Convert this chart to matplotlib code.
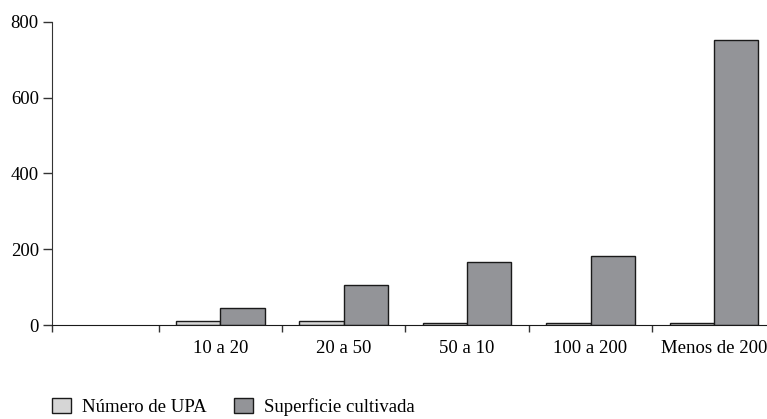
import matplotlib
matplotlib.use("Agg")
import matplotlib.pyplot as plt
import numpy as np

plt.rcParams['font.family'] = ['Liberation Serif', 'DejaVu Serif']

categorias = ["", "10 a 20", "20 a 50", "50 a 10", "100 a 200", "Menos de 200"]
numero_upa = [np.nan, 10, 10, 5, 5, 5]
superficie = [np.nan, 45, 105, 165, 182, 753]

fig = plt.figure(figsize=(7.67, 4.19), dpi=100)
ax = fig.add_axes([52 / 767, 1 - 325 / 419, 1 - 52 / 767, (325 - 21.7) / 419])

x = np.arange(len(categorias))
w = 0.359
b1 = ax.bar(x - w / 2, numero_upa, w, color='#d6d6d6', edgecolor='#1a1a1a', linewidth=1.0,
            label='Número de UPA')
b2 = ax.bar(x + w / 2, superficie, w, color='#939498', edgecolor='#1a1a1a', linewidth=1.0,
            label='Superficie cultivada')

x_left = -0.364
ax.set_xlim(x_left, 5.43)
ax.set_ylim(0, 800)

# limites entre categorias como ticks mayores, nombres centrados como menores
ax.set_xticks([x_left] + list(np.arange(0.5, 5, 1.0)))
ax.set_xticklabels([])
ax.set_xticks(x, minor=True)
ax.set_xticklabels(categorias, minor=True, fontsize=13.5)
ax.tick_params(axis='x', which='major', direction='out', length=5, width=1, color='#333333')
ax.tick_params(axis='x', which='minor', length=0, pad=11)

ax.set_yticks([0, 200, 400, 600, 800])
ax.tick_params(axis='y', direction='out', length=6.5, width=1, color='#333333', pad=3,
               labelsize=13.5)

for s in ['top', 'right']:
    ax.spines[s].set_visible(False)
ax.spines['left'].set_color('#333333')
ax.spines['bottom'].set_color('#1a1a1a')

leg = fig.legend(handles=[b1, b2], loc='center left', bbox_to_anchor=(52 / 767, 1 - 407 / 419),
                 ncol=2, frameon=False, fontsize=13.5, handlelength=1.0, handleheight=0.85,
                 handletextpad=0.6, columnspacing=1.47, borderaxespad=0, borderpad=0)

fig.savefig('out.png', dpi=100)
